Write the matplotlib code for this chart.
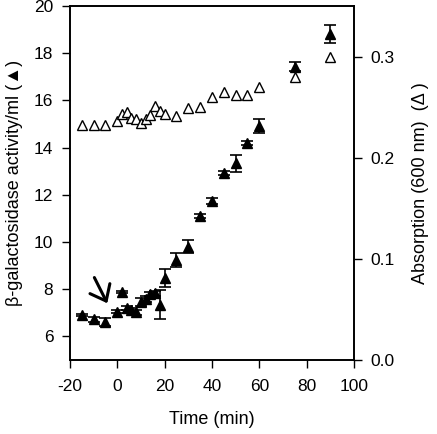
import numpy as np
import matplotlib
matplotlib.use("Agg")
import matplotlib.pyplot as plt

plt.rcParams['font.family'] = ['Liberation Sans', 'DejaVu Sans']
plt.rcParams['axes.unicode_minus'] = False

# time points (min)
time = [-15, -10, -5, 0, 2, 4, 6, 8, 10, 12, 14, 16, 18, 20,
        25, 30, 35, 40, 45, 50, 55, 60, 75, 90]
# beta-galactosidase activity/ml (filled triangles)
bgal = [6.9, 6.72, 6.6, 7.05, 7.88, 7.2, 7.1, 7.02, 7.45, 7.58, 7.8, 7.83, 7.35, 8.46,
        9.24, 9.8, 11.1, 11.75, 12.94, 13.33, 14.2, 14.9, 17.43, 18.8]
bgal_err = [0.05, 0.12, 0.16, 0.05, 0.06, 0.1, 0.12, 0.12, 0.16, 0.12, 0.1, 0.1, 0.6, 0.38,
            0.3, 0.28, 0.1, 0.12, 0.08, 0.35, 0.1, 0.3, 0.2, 0.38]
# absorption at 600 nm (open triangles)
od600 = [0.232, 0.232, 0.232, 0.236, 0.243, 0.245, 0.239, 0.238, 0.234, 0.238, 0.242, 0.251, 0.246, 0.243,
         0.241, 0.249, 0.25, 0.26, 0.265, 0.262, 0.262, 0.27, 0.28, 0.30]

fig = plt.figure(figsize=(4.37, 4.34), dpi=100)
ax = fig.add_axes([0.160, 0.1705, 0.650, 0.8155])
ax2 = ax.twinx()

ax.errorbar(time, bgal, yerr=bgal_err, fmt='^', color='black', ms=6.5, capsize=4,
            elinewidth=1.2, capthick=1.2, zorder=3)
ax2.plot(time, od600, '^', mfc='white', mec='black', ms=6.5, mew=1.0, ls='none')

# arrow marking the induction point
ax.annotate('', xy=(-3.7, 7.3), xytext=(-10.2, 8.6),
            arrowprops=dict(arrowstyle='->,head_length=0.5,head_width=0.4',
                            mutation_scale=20, lw=2.2, color='black'))

ax.set_xlim(-20, 100)
ax.set_ylim(5, 20)
ax2.set_ylim(0, 0.35)
ax.set_xticks([-20, 0, 20, 40, 60, 80, 100])
ax.set_yticks([6, 8, 10, 12, 14, 16, 18, 20])
ax2.set_yticks([0.0, 0.1, 0.2, 0.3])
ax2.set_yticklabels(['0.0', '0.1', '0.2', '0.3'])

for a in (ax, ax2):
    a.tick_params(direction='out', length=6, width=1, labelsize=12.5, pad=6)
    for s in a.spines.values():
        s.set_linewidth(1.2)
ax.tick_params(axis='x', pad=8)

ax.set_xlabel('Time (min)', fontsize=13, labelpad=12)
ax.set_ylabel('β-galactosidase activity/ml (▲)', fontsize=13, labelpad=8)
ax2.set_ylabel('Absorption (600 nm)  (Δ )', fontsize=13, labelpad=12)

fig.savefig('out.png', dpi=100)
